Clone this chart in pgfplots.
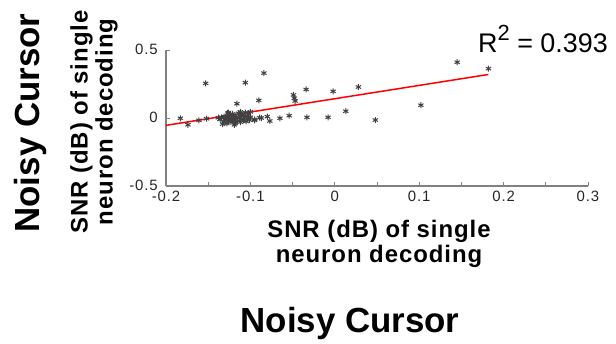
\documentclass[border=0pt]{standalone}
\usepackage{pgfplots}
\pgfplotsset{compat=1.18}
\usepackage{fontspec}
\setmainfont{Liberation Sans}
\begin{document}
\begin{tikzpicture}[x=1bp,y=1bp]
\path (0,0) rectangle (616,343);
\begin{axis}[
  at={(166bp,157bp)}, anchor=south west,
  scale only axis, width=422bp, height=136bp,
  xmin=-0.2, xmax=0.3, ymin=-0.5, ymax=0.5,
  axis x line=bottom, axis y line=left,
  axis line style={-, black!50, line width=2bp},
  xtick={-0.2,-0.1,0,0.1,0.2,0.3},
  xticklabels={-0.2,-0.1,0,0.1,0.2,0.3},
  minor xtick={-0.15,-0.05,0.05,0.15,0.25},
  ytick={-0.5,0,0.5},
  yticklabels={-0.5,0,0.5},
  tick align=inside,
  major tick length=4bp, minor tick length=4bp,
  tick style={black!50, line width=1bp},
  /pgf/number format/assume math mode=true,
  ticklabel style={font=\fontsize{15}{15}\selectfont\addfontfeatures{LetterSpace=6}, text=black!85, inner sep=2bp},
  xticklabel style={yshift=-3bp},
  yticklabel style={xshift=-6bp, yshift=1bp},
  clip=false,
]
\addplot[only marks, mark=asterisk, mark size=3bp, black!75, line width=1bp] coordinates {
(-0.183,-0.002) (-0.174,-0.05) (-0.161,-0.017) (-0.152,-0.005) (-0.153,0.255)
(-0.106,0.26) (-0.084,0.33) (-0.116,0.105) (-0.090,0.13) (-0.049,0.17)
(-0.048,0.145) (-0.047,0.125) (-0.034,0.21) (-0.002,0.196) (0.028,0.228)
(0.013,0.05) (0.048,-0.015) (-0.008,0.005) (-0.033,0.005) (-0.054,0.017)
(-0.065,-0.002) (-0.077,-0.022) (-0.095,-0.01) (-0.087,0.0) (-0.080,0.01)
(-0.089,0.002) (-0.095,-0.017)
(0.102,0.094) (0.145,0.41) (0.182,0.363)
(-0.136,-0.010) (-0.134,0.005) (-0.132,-0.030) (-0.131,0.010) (-0.130,-0.015)
(-0.129,0.000) (-0.128,-0.040) (-0.127,0.015) (-0.126,-0.020) (-0.125,0.005)
(-0.124,-0.005) (-0.124,0.025) (-0.123,-0.030) (-0.122,0.010) (-0.121,-0.012)
(-0.121,0.030) (-0.120,-0.025) (-0.119,0.000) (-0.118,0.018) (-0.118,-0.040)
(-0.117,-0.008) (-0.116,0.008) (-0.115,-0.020) (-0.114,0.035) (-0.113,0.002)
(-0.112,-0.030) (-0.111,0.015) (-0.110,-0.010) (-0.109,0.025) (-0.108,-0.018)
(-0.107,0.005) (-0.106,0.040) (-0.105,-0.025) (-0.104,0.012) (-0.103,-0.005)
(-0.102,0.030) (-0.101,-0.015) (-0.100,0.045) (-0.100,0.005) (-0.133,-0.045)
(-0.127,0.035) (-0.119,-0.050) (-0.112,0.045) (-0.126,0.040) (-0.138,0.002)
};
\addplot[red, line width=1.5bp] coordinates {(-0.2,-0.054) (0.182,0.320)};
\end{axis}
\node[anchor=base west, inner sep=0] at (478,291) {\fontsize{27}{27}\selectfont R\raisebox{0.42em}{\fontsize{22}{22}\selectfont 2} = 0.393};
\node[rotate=90, anchor=base, inner sep=0, font=\fontsize{35}{35}\bfseries\selectfont] at (39,220) {Noisy Cursor};
\node[rotate=90, anchor=center, align=center, inner sep=0, font=\fontsize{24}{25}\bfseries\selectfont\addfontfeatures{LetterSpace=4}] at (94,221) {SNR (dB) of single\\ neuron decoding};
\node[anchor=center, align=center, inner sep=0, font=\fontsize{24}{25}\bfseries\selectfont\addfontfeatures{LetterSpace=4}] at (379,99) {SNR (dB) of single\\ neuron decoding};
\node[anchor=base, inner sep=0, font=\fontsize{35}{35}\bfseries\selectfont] at (350,11) {Noisy Cursor};
\end{tikzpicture}
\end{document}
